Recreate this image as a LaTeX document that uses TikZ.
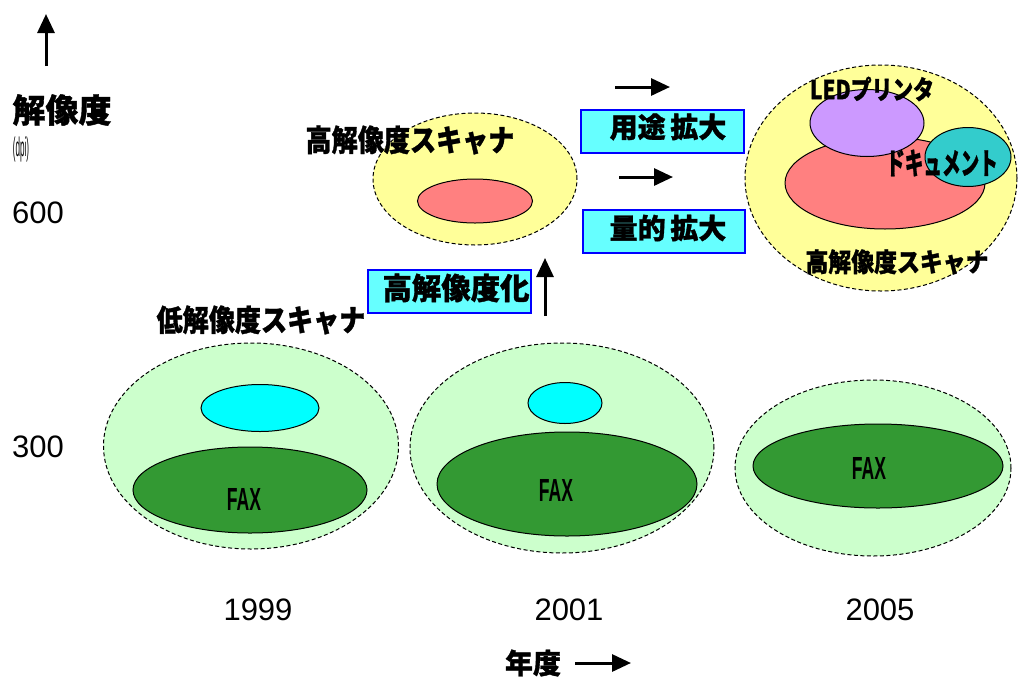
\documentclass[tikz,border=0pt]{standalone}
\usepackage{fontspec}
\usepackage{graphicx}
\setmainfont{Liberation Sans}
\newfontfamily\jp{Noto Sans CJK JP}[BoldFeatures={FakeBold=1.2}]
\usetikzlibrary{arrows.meta,shapes.geometric}
\definecolor{lgreen}{HTML}{CCFFCC}
\definecolor{dgreen}{HTML}{339933}
\definecolor{lyellow}{HTML}{FFFF99}
\definecolor{salmon}{HTML}{FF8080}
\definecolor{aqua}{HTML}{00FFFF}
\definecolor{lilac}{HTML}{CC99FF}
\definecolor{teal2}{HTML}{33CCCC}
\definecolor{boxfill}{HTML}{66FFFF}
\newcommand\jt[3]{\scalebox{#2}[1]{\fontsize{#1}{#1}\selectfont\jp\bfseries #3}}
\begin{document}
\begin{tikzpicture}[x=1pt,y=-1pt,
  ell/.style={ellipse,draw=black,line width=1pt,inner sep=0pt},
  outer/.style={ell,dashed,dash pattern=on 4pt off 2.5pt},
  tagbox/.style={draw=blue,line width=1.8pt,fill=boxfill,inner sep=0pt,anchor=north west},
  arr/.style={line width=3pt,-{Triangle[length=19pt,width=17pt]}},
  num/.style={font=\fontsize{31}{31}\selectfont},
  lbl/.style={inner sep=0pt}]
\useasboundingbox (0,0) rectangle (1018,678);
% outer ellipses
\node[outer,fill=lgreen,minimum width=295pt,minimum height=206pt] (e1) at (251,446) {};
\node[outer,fill=lgreen,minimum width=304pt,minimum height=210pt] (e2) at (562,448) {};
\node[outer,fill=lgreen,minimum width=276pt,minimum height=176pt] (e3) at (873,468) {};
\node[outer,fill=lyellow,minimum width=204pt,minimum height=132pt] (y1) at (475,179) {};
\node[outer,fill=lyellow,minimum width=272pt,minimum height=226pt] (y2) at (881,178) {};
% inner ellipses
\node[ell,fill=aqua,minimum width=118pt,minimum height=47pt] (c1) at (260,408) {};
\node[ell,fill=dgreen,minimum width=234pt,minimum height=86pt] (g1) at (250,490) {};
\node[ell,fill=aqua,minimum width=74pt,minimum height=41pt] (c2) at (565,403) {};
\node[ell,fill=dgreen,minimum width=260pt,minimum height=104pt] (g2) at (567,484) {};
\node[ell,fill=dgreen,minimum width=250pt,minimum height=84pt] (g3) at (878,466) {};
\node[ell,fill=salmon,minimum width=115pt,minimum height=44pt] (r1) at (475,201) {};
\node[ell,fill=salmon,minimum width=200pt,minimum height=92pt] (r2) at (885,183) {};
\node[ell,fill=lilac,minimum width=114pt,minimum height=67pt] (p2) at (867,123) {};
\node[ell,fill=teal2,minimum width=86pt,minimum height=59pt] (t2) at (968,157) {};
% boxes
\node[tagbox,minimum width=163pt,minimum height=43pt] (b1) at (367,269) {};
\node[tagbox,minimum width=163pt,minimum height=43pt] (b2) at (580,109) {};
\node[tagbox,minimum width=162pt,minimum height=43pt] (b3) at (582,209) {};
% texts
\node[lbl] (tres) at (62,110) {\jt{33}{1}{解像度}};
\node[lbl] (tdpi) at (21,150) {\scalebox{0.3}[1]{\fontsize{27}{27}\selectfont (dpi)}};
\node[lbl,num] (t600) at (38,213) {600};
\node[lbl,num] (t300) at (38,447) {300};
\node[lbl,num] (y1999) at (258,610) {1999};
\node[lbl,num] (y2001) at (569,610) {2001};
\node[lbl,num] (y2005) at (880,610) {2005};
\node[lbl] (tyear) at (533,663) {\jt{28}{1}{年度}};
\node[lbl] (tlow) at (261,320) {\jt{30}{0.87}{低解像度スキャナ}};
\node[lbl] (thigh1) at (410,140) {\jt{30}{0.87}{高解像度スキャナ}};
\node[lbl] (thk) at (456,288) {\jt{30}{0.98}{高解像度化}};
\node[lbl] (tyo) at (668,127) {\jt{28}{1}{用途\,拡大}};
\node[lbl] (tryo) at (668,228) {\jt{28}{1}{量的\,拡大}};
\node[lbl] (tled) at (872,89) {\jt{26}{0.8}{LEDプリンタ}};
\node[lbl] (tdoc) at (942,163) {\jt{30}{0.62}{ドキュメント}};
\node[lbl] (thigh2) at (897,262) {\jt{26}{0.88}{高解像度スキャナ}};
\node[lbl] (fax1) at (244,499) {\scalebox{0.55}[1]{\fontsize{32}{32}\selectfont\bfseries FAX}};
\node[lbl] (fax2) at (556,490) {\scalebox{0.55}[1]{\fontsize{32}{32}\selectfont\bfseries FAX}};
\node[lbl] (fax3) at (869,468) {\scalebox{0.55}[1]{\fontsize{32}{32}\selectfont\bfseries FAX}};
% arrows
\coordinate (a1s) at (46,66); \coordinate (a1e) at (46,14);
\coordinate (a2s) at (575,663); \coordinate (a2e) at (631,663);
\coordinate (a3s) at (615,87); \coordinate (a3e) at (670,87);
\coordinate (a4s) at (619,177); \coordinate (a4e) at (673,177);
\coordinate (a5s) at (545,316); \coordinate (a5e) at (545,258);
\draw[arr] (a1s) -- (a1e);
\draw[arr] (a2s) -- (a2e);
\draw[arr] (a3s) -- (a3e);
\draw[arr] (a4s) -- (a4e);
\draw[arr] (a5s) -- (a5e);
\end{tikzpicture}
\end{document}
